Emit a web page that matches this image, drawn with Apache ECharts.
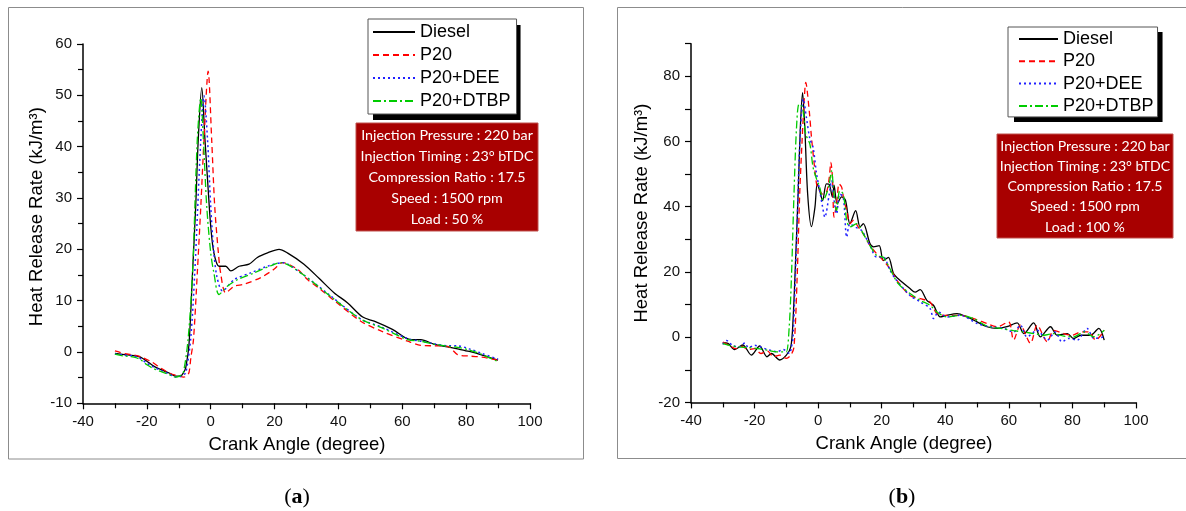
<!DOCTYPE html>
<html><head><meta charset="utf-8">
<script src="https://cdn.jsdelivr.net/npm/echarts@6/dist/echarts.min.js"></script>
<style>html,body{margin:0;padding:0;background:#fff;}#c{width:1186px;height:511px;}</style>
</head><body><div id="c"></div>
<script>
const seriesNames = ['Diesel', 'P20', 'P20+DEE', 'P20+DTBP'];
const xAxisName = 'Crank Angle (degree)';
const yAxisName = 'Heat Release Rate (kJ/m\u00B3)';
const infoA = ['Injection Pressure : 220 bar', 'Injection Timing : 23\u00B0 bTDC', 'Compression Ratio : 17.5', 'Speed : 1500 rpm', 'Load : 50 %'];
const infoB = ['Injection Pressure : 220 bar', 'Injection Timing : 23\u00B0 bTDC', 'Compression Ratio : 17.5', 'Speed : 1500 rpm', 'Load : 100 %'];
const yLabelsB = [-20, 0, 20, 40, 60, 80];
const yTicksB = [-20, -10, 0, 10, 20, 30, 40, 50, 60, 70, 80, 90];

// Panel (a): Load 50 %
const dieselA = [[-30,-0.3],[-27,-0.5],[-24,-0.7],[-22,-1.0],[-20,-1.8],[-18,-2.7],[-15.7,-3.4],[-13,-4.1],[-11,-4.7],[-9.5,-4.7],[-8.5,-4.0],[-7.8,-3.0],[-6.8,1.5],[-5.7,15.4],[-4.7,28.4],[-3.9,41.4],[-2.8,51.5],[-1.8,41.4],[-0.8,31.7],[0,24.5],[1,19.3],[2.6,16.7],[4.7,16.7],[6.3,15.8],[8.9,16.7],[12,17.1],[14.6,18.4],[17.8,19.3],[21.4,20.0],[24,19.3],[29.2,17.1],[34,14.3],[38.7,11.5],[42.8,9.6],[47.6,6.8],[51.2,6.0],[56.9,4.4],[62.7,2.4],[65.8,2.4],[70,1.5],[74.2,1.0],[77.3,0.6],[81,0.1],[85,-0.6],[90,-1.6]];
const p20A = [[-30,0.2],[-27,-0.3],[-24,-0.6],[-22,-0.9],[-20,-1.5],[-18.8,-1.8],[-15.7,-3.1],[-13,-4.1],[-10,-4.7],[-8.4,-4.9],[-7.5,-4.6],[-6.8,-4.0],[-6.2,-1.0],[-5.4,2.4],[-4.2,15.4],[-3.1,28.4],[-2.1,41.4],[-0.8,54.7],[0.3,41.4],[1.25,28.4],[2.4,19.3],[3.1,15.4],[4.7,11.5],[7.3,12.8],[10.4,13.2],[15.7,14.5],[19.8,16.1],[22.5,17.4],[27.2,16.1],[30.3,14.1],[34,12.4],[38.7,10.0],[47,6.0],[53.3,4.1],[61.7,2.1],[65.8,1.3],[70,1.2],[74.2,1.1],[77.3,-0.5],[81,-0.8],[85,-1.0],[90,-1.6]];
const deeA = [[-30,-0.4],[-27,-0.6],[-24,-0.8],[-22,-1.3],[-20,-2.2],[-18,-2.9],[-15.7,-3.6],[-13,-4.3],[-11,-4.9],[-9.5,-4.8],[-8.5,-4.4],[-7.8,-4.1],[-6.3,2.4],[-5.0,15.4],[-3.1,41.4],[-2.1,49.9],[-1.0,41.4],[0,28.4],[1.0,19.3],[2.0,14.5],[3.7,11.9],[7.3,14.1],[12.5,15.4],[17.8,16.7],[22.5,17.4],[28.2,15.4],[37.6,10.9],[47,6.4],[53.3,4.9],[61.7,2.6],[65.8,2.1],[70,1.6],[74.2,1.2],[77.3,1.2],[81,0.6],[85,-0.3],[90,-1.4]];
const dtbpA = [[-30,-0.4],[-27,-0.8],[-24,-1.0],[-22,-1.5],[-20,-2.5],[-18,-3.2],[-15.7,-3.8],[-13,-4.4],[-11,-4.9],[-9.5,-4.6],[-8.6,-4.1],[-7.1,2.4],[-5.7,15.4],[-4.2,41.4],[-3.1,49.5],[-2.3,41.4],[-1.25,28.4],[0,19.3],[1.0,15.4],[2.6,11.2],[5.2,12.8],[8.4,14.1],[13.6,15.4],[18.8,16.8],[21.9,17.4],[28.2,15.4],[37.6,10.8],[47,6.4],[53.3,4.8],[61.7,2.4],[65.8,2.1],[70,1.5],[74.2,1.1],[77.3,0.9],[81,0.4],[85,-0.5],[90,-1.9]];

// Panel (b): Load 100 %
const dieselB = [[-30,-1.7],[-28.4,-1.9],[-26.3,-3.8],[-23.7,-2.4],[-21,-5.5],[-18.4,-2.7],[-16.1,-6.0],[-14.7,-5.0],[-12.1,-7.0],[-10,-5.5],[-8.6,-3.0],[-7.9,5.2],[-7.1,23.5],[-6.3,43.9],[-5.6,64.3],[-4.9,75.0],[-4.2,64.3],[-3.3,43.9],[-2.1,33.9],[-1.0,39.9],[-0.3,47.0],[0.5,44.9],[1.4,41.9],[2.6,47.0],[3.5,46.8],[4.5,43.0],[5.0,46.6],[6.0,40.9],[7.4,43.0],[8.6,42.0],[10,34.8],[11.8,38.8],[13.2,33.8],[14.2,34.8],[16.3,28.7],[17.4,27.7],[19.2,28.1],[20.5,23.5],[22.1,24.5],[23.7,19.5],[25.2,17.9],[28.9,14.9],[30.5,13.8],[32.1,14.6],[34.2,11.3],[36.3,9.8],[38.4,6.2],[40.5,6.7],[43.7,7.2],[46.8,6.2],[50,4.7],[53.1,3.2],[56.3,2.7],[59.4,3.2],[62.6,4.4],[64.7,1.1],[67.8,4.4],[69.9,0.1],[73.1,3.2],[75.2,0.6],[78.4,1.1],[80.4,-0.4],[82.6,0.6],[85.7,0.6],[88.3,2.7],[90,-0.9]];
const p20B = [[-30,-1.5],[-28,-2.5],[-26,-3.5],[-24,-2.8],[-22,-3.8],[-20,-3.5],[-18,-5.0],[-16,-4.2],[-14,-6.0],[-12,-5.5],[-10,-6.5],[-8.6,-5.5],[-7.6,-3.0],[-6.6,18.4],[-5.8,43.9],[-5.0,61.3],[-4.4,72.5],[-3.9,78.1],[-2.8,69.4],[-2.1,61.3],[-1.0,51.0],[-0.3,46.0],[0.5,44.9],[1.4,43.9],[2.6,44.4],[3.5,49.0],[4.0,53.6],[4.5,49.0],[5.0,36.8],[5.8,40.9],[6.6,47.0],[7.4,46.0],[8.1,42.0],[9.0,38.8],[10,34.8],[11.1,35.8],[12.6,33.8],[14.2,31.7],[16.3,28.1],[18.4,25.6],[20.5,23.5],[22.6,21.0],[25.2,16.9],[28.9,12.8],[32.1,11.8],[35.2,10.8],[37.4,7.2],[40.5,6.7],[44.7,6.7],[48.9,5.7],[53.1,4.2],[56.3,3.2],[59.9,4.7],[61.5,-0.9],[63.6,3.7],[66.8,-1.9],[68.9,3.7],[72.1,-1.4],[74.1,2.1],[77.3,1.1],[79.9,0.6],[82.6,1.6],[85.2,1.6],[87.3,-0.9],[90,2.1]];
const deeB = [[-30,-2.2],[-28.8,-1.0],[-27,-2.5],[-25,-3.0],[-23,-1.8],[-22,-3.2],[-20,-2.5],[-18,-3.0],[-16,-3.8],[-15,-4.0],[-13,-4.5],[-11,-3.8],[-9,-5.0],[-8.5,-3.5],[-7.9,0.1],[-6.8,28.7],[-6.0,54.1],[-5.2,69.4],[-4.7,73.0],[-3.7,67.4],[-2.6,60.8],[-1.6,58.2],[-0.5,50.1],[0.5,44.9],[1.4,39.9],[2.1,36.8],[3.5,43.9],[4.2,48.0],[5.0,42.0],[5.8,37.8],[6.8,43.9],[7.9,43.0],[9.0,30.7],[10,34.8],[11.6,33.8],[13.7,32.7],[16.3,28.1],[18.4,24.6],[20.5,24.6],[22.6,20.5],[24.7,17.4],[28.9,12.8],[32.1,10.8],[35.2,8.8],[36.3,5.7],[37.9,7.7],[40.5,6.2],[44.7,6.7],[50,4.2],[54.2,3.2],[58.4,2.7],[61.5,1.6],[63.6,3.7],[65.7,0.1],[68.9,2.1],[72.1,-0.9],[74.6,1.6],[76.7,-1.4],[78.8,-0.4],[81.5,-0.9],[84.6,2.7],[86.8,-0.4],[90,0.1]];
const dtbpB = [[-30,-2.0],[-28,-2.5],[-25,-3.0],[-22,-3.2],[-19,-3.5],[-16,-4.0],[-13,-4.5],[-11,-4.5],[-10,-4.5],[-9.1,3.2],[-8.4,18.4],[-7.6,43.9],[-6.8,64.3],[-6.0,71.5],[-4.9,70.4],[-3.9,62.3],[-2.6,59.2],[-1.6,52.1],[-0.5,48.5],[0.5,46.0],[1.6,42.0],[2.6,43.9],[3.5,47.0],[4.2,51.0],[5.0,43.9],[5.8,38.8],[6.8,44.9],[7.9,43.9],[9.0,35.8],[10,33.8],[12.1,34.8],[14.2,31.7],[16.3,28.1],[18.4,25.1],[20.5,24.5],[22.6,21.0],[25.2,16.4],[28.9,13.4],[32.1,11.3],[35.2,9.8],[37.4,7.7],[40.5,6.2],[44.7,6.7],[48.9,5.7],[53.1,3.4],[57.3,2.7],[61.5,2.0],[64.7,1.6],[67.8,1.1],[71,0.6],[74.1,1.1],[77.3,0.3],[80.4,0.1],[83.6,1.6],[86.8,0.1],[90,2.1]];

const styles = [
  { color: '#000000', type: 'solid', width: 1.3 },
  { color: '#ff0000', type: [6, 4], width: 1.3 },
  { color: '#2020ff', type: [2, 3], width: 1.5 },
  { color: '#00cc00', type: [8, 3, 2, 3], width: 1.3 }
];
const FONT = 'Liberation Sans';
const LEG_FS = 18;

const chart = echarts.init(document.getElementById('c'), null, { renderer: 'canvas' });

// widest legend label width (for the legend's drop-shadow box)
const mctx = document.createElement('canvas').getContext('2d');
mctx.font = LEG_FS + 'px "' + FONT + '"';
const legTextW = Math.max.apply(null, seriesNames.map(s => mctx.measureText(s).width));

function xAxisCfg(gi) {
  return {
    type: 'value', gridIndex: gi, min: -40, max: 100, interval: 20,
    name: xAxisName, nameLocation: 'middle', nameGap: 32,
    nameTextStyle: { fontSize: 18.5, fontFamily: FONT, color: '#000', padding: [0, 19, 0, 0] },
    axisLine: { onZero: false, lineStyle: { color: '#000', width: 1.5 } },
    axisTick: { length: 6, lineStyle: { color: '#000', width: 1.2 } },
    minorTick: { show: true, splitNumber: 2, length: 5, lineStyle: { color: '#000', width: 1.2 } },
    axisLabel: { fontSize: 15, fontFamily: FONT, color: '#111', margin: 11 },
    splitLine: { show: false }, minorSplitLine: { show: false }
  };
}
function commonY(gi, gap, pad) {
  return {
    type: 'value', gridIndex: gi,
    name: yAxisName, nameLocation: 'middle', nameGap: gap,
    nameTextStyle: { fontSize: 18.5, fontFamily: FONT, color: '#000', padding: pad },
    axisLine: { onZero: false, lineStyle: { color: '#000', width: 1.5 } },
    splitLine: { show: false }, minorSplitLine: { show: false }
  };
}
const yA = Object.assign(commonY(0, 37, [0, 0, 0, 14]), {
  min: -10, max: 60, interval: 10,
  axisTick: { length: 6, lineStyle: { color: '#000', width: 1.2 } },
  minorTick: { show: true, splitNumber: 2, length: 5, lineStyle: { color: '#000', width: 1.2 } },
  axisLabel: { fontSize: 15, fontFamily: FONT, color: '#111', margin: 11 }
});
const yB = Object.assign(commonY(1, 40, [0, 0, 0, 20]), {
  min: -20, max: 90, interval: 10,
  axisTick: { length: 6, customValues: yTicksB, lineStyle: { color: '#000', width: 1.2 } },
  minorTick: { show: false },
  axisLabel: { fontSize: 15, fontFamily: FONT, color: '#111', margin: 11, customValues: yLabelsB }
});

function mk(name, data, gi, st) {
  return {
    name: name, type: 'line', xAxisIndex: gi, yAxisIndex: gi, data: data,
    symbol: 'none', showSymbol: false, smooth: 0.3, animation: false, silent: true,
    lineStyle: { color: st.color, width: st.width, type: st.type },
    itemStyle: { color: st.color }
  };
}
const dataA = [dieselA, p20A, deeA, dtbpA];
const dataB = [dieselB, p20B, deeB, dtbpB];
const series = [];
seriesNames.forEach((n, i) => series.push(mk(n, dataA[i], 0, styles[i])));
seriesNames.forEach((n, i) => series.push(mk(n, dataB[i], 1, styles[i])));

// legend layout: [left, top, padding [t,r,b,l], itemWidth, itemGap, shadowDx, shadowDy]
const legA = { left: 368, top: 19, pad: [4, 6, 4, 4], iw: 42, gap: 5, dx: 5, dy: 6 };
const legB = { left: 1008, top: 27, pad: [3, 4, 2, 10], iw: 39, gap: 4.3, dx: 6, dy: 5 };

function legendCfg(L) {
  return {
    data: seriesNames, orient: 'vertical', left: L.left, top: L.top, padding: L.pad,
    itemWidth: L.iw, itemHeight: 12, itemGap: L.gap, selectedMode: false, z: 6,
    itemStyle: { color: 'rgba(0,0,0,0)', borderColor: 'rgba(0,0,0,0)', borderWidth: 0, opacity: 0 },
    textStyle: { fontSize: LEG_FS, lineHeight: 18, fontFamily: FONT, color: '#000' },
    backgroundColor: '#fff', borderColor: '#555', borderWidth: 1
  };
}
function legendShadow(L) {
  const w = L.pad[3] + L.iw + 5 + legTextW + L.pad[1];
  const h = L.pad[0] + 4 * 18 + 3 * L.gap + L.pad[2];
  return { type: 'rect', z: 1, shape: { x: L.left + L.dx, y: L.top + L.dy, width: w, height: h },
           style: { fill: '#000' } };
}

function infoBox(x, y, w, h, lines, lh, fs) {
  return [
    { type: 'rect', shape: { x: x, y: y, width: w, height: h }, style: { fill: '#a80000', stroke: '#c0504d', lineWidth: 1 }, z: 10 },
    { type: 'text', x: x + w / 2, y: y + h / 2 + 0.5, z: 11,
      style: { text: lines.join('\n'), fill: '#fff', fontSize: fs, fontFamily: 'Lato', lineHeight: lh,
               align: 'center', verticalAlign: 'middle', textAlign: 'center', textVerticalAlign: 'middle' } }
  ];
}
function caption(x, y, letter) {
  return { type: 'text', x: x, y: y, z: 11,
    style: { text: '{p|(}{b|' + letter + '}{p|)}', fill: '#000', align: 'center', verticalAlign: 'middle',
      textAlign: 'center', textVerticalAlign: 'middle',
      rich: { p: { fontFamily: 'Liberation Serif', fontSize: 22, fill: '#000' },
              b: { fontFamily: 'Liberation Serif', fontSize: 22, fontWeight: 'bold', fill: '#000' } } } };
}

const graphics = [
  { type: 'rect', shape: { x: 8.5, y: 7.5, width: 575, height: 451.5 }, style: { fill: 'none', stroke: '#8c8c8c', lineWidth: 1 }, z: -10 },
  { type: 'rect', shape: { x: 617.5, y: 7.5, width: 600, height: 451 }, style: { fill: 'none', stroke: '#8c8c8c', lineWidth: 1 }, z: -10 },
  legendShadow(legA), legendShadow(legB)
].concat(infoBox(356, 123, 182, 108, infoA, 21.15, 14.3))
 .concat(infoBox(997, 134, 176, 104, infoB, 20.25, 14.1))
 .concat([caption(297, 497, 'a'), caption(902, 497, 'b')]);

chart.setOption({
  backgroundColor: '#fff',
  animation: false,
  grid: [
    { left: 83, top: 44, width: 447, height: 359.3 },
    { left: 691, top: 43.7, width: 445, height: 358.7 }
  ],
  xAxis: [xAxisCfg(0), xAxisCfg(1)],
  yAxis: [yA, yB],
  legend: [legendCfg(legA), legendCfg(legB)],
  graphic: graphics,
  series: series
});
</script>
</body></html>
